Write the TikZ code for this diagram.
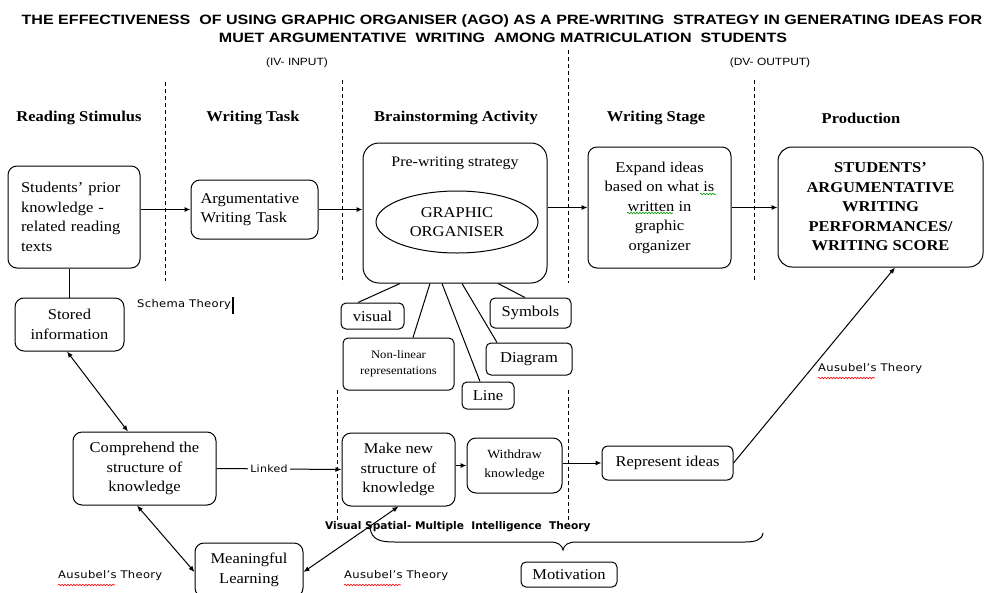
\documentclass[tikz,border=0pt]{standalone}
\usepackage{fontspec}
\setmainfont{Liberation Serif}[FakeStretch=1.1]
\newfontfamily\arialf{Liberation Sans}[FakeStretch=1.14]
\newfontfamily\arialt{Liberation Sans}[FakeStretch=1.19]
\newfontfamily\dvs{DejaVu Sans}[FakeStretch=1.1, LetterSpace=3]
\newfontfamily\dvsplain{DejaVu Sans}
\usetikzlibrary{arrows.meta,shapes.geometric,decorations.pathmorphing,calc}
\begin{document}
\begin{tikzpicture}[x=1pt,y=-1pt,
  bx/.style={draw, rounded corners=9pt, line width=1pt, inner sep=0pt, align=center, font=\fontsize{15}{19.5}\selectfont},
  sbx/.style={draw, rounded corners=5pt, line width=1pt, inner sep=0pt, align=center, font=\fontsize{15}{19}\selectfont},
  hdr/.style={font=\bfseries\fontsize{15}{17}\selectfont, inner sep=0pt},
  th/.style={font=\dvs\fontsize{10.5}{12}\selectfont, inner sep=0pt, anchor=west},
  dsh/.style={dash pattern=on 4pt off 3pt, line width=0.8pt},
  arr/.style={-{Latex[length=6pt,width=5pt]}, line width=1pt},
  darr/.style={{Latex[length=6pt,width=5pt]}-{Latex[length=6pt,width=5pt]}, line width=1pt},
  ln/.style={line width=1pt},
  sq/.style={decorate, decoration={snake, segment length=3pt, amplitude=0.8pt}, line width=0.6pt},
]
\useasboundingbox (0,0) rectangle (985,592);
% title
\node[font=\arialt\bfseries\fontsize{13.5}{15}\selectfont, inner sep=0pt] (t1) at (502,21) {THE EFFECTIVENESS\ \ OF USING GRAPHIC ORGANISER (AGO) AS A PRE-WRITING\ \ STRATEGY IN GENERATING IDEAS FOR};
\node[font=\arialt\bfseries\fontsize{13.5}{15}\selectfont, inner sep=0pt] (t2) at (503,38) {MUET ARGUMENTATIVE\ \ WRITING\ \ AMONG MATRICULATION\ \ STUDENTS};
\node[font=\arialf\fontsize{10.5}{12}\selectfont, inner sep=0pt] (iv) at (297,63) {(IV- INPUT)};
\node[font=\arialf\fontsize{10.5}{12}\selectfont, inner sep=0pt] (dv) at (770,63) {(DV- OUTPUT)};
% dashed separators
\draw[dsh] (165,82) -- (165,281);
\draw[dsh] (342,80) -- (342,283);
\draw[dsh] (568,50) -- (568,283);
\draw[dsh] (754,80) -- (754,283);
\draw[dsh] (337,390) -- (337,522);
\draw[dsh] (568,390) -- (568,525);
% headers
\node[hdr] (h1) at (79,118) {Reading Stimulus};
\node[hdr] (h2) at (253,118) {Writing Task};
\node[hdr] (h3) at (456,118) {Brainstorming Activity};
\node[hdr] (h4) at (656,118) {Writing Stage};
\node[hdr] (h5) at (861,118) {Production};
% top row
\node[bx, minimum width=132pt, minimum height=102pt, text width=106pt, align=left] (prior) at (74,217) {Students’ prior\\ knowledge -\\ related reading\\ texts};
\node[bx, minimum width=127pt, minimum height=59pt, text width=108pt, align=left] (task) at (254.5,209.5) {Argumentative\\ Writing Task};
\node[draw, rounded corners=16pt, line width=1pt, minimum width=184pt, minimum height=140pt, inner sep=0pt] (big) at (455,213) {};
\node[font=\fontsize{14.5}{16}\selectfont, inner sep=0pt] (pws) at (455,163) {Pre-writing strategy};
\node[ellipse, draw, line width=1pt, minimum width=162pt, minimum height=62pt, inner sep=0pt, align=center, font=\fontsize{15}{19.5}\selectfont] (go) at (457,222) {GRAPHIC\\ORGANISER};
\node[bx, minimum width=143pt, minimum height=121pt] (exp) at (659.5,207.5) {Expand ideas\\ based on what is\\ written in\\ graphic\\ organizer};
\node[bx, rounded corners=14pt, minimum width=205pt, minimum height=120pt, font=\bfseries\fontsize{15}{19.5}\selectfont] (prod) at (880.5,207) {STUDENTS’\\ ARGUMENTATIVE\\ WRITING\\ PERFORMANCES/\\ WRITING SCORE};
% small boxes
\node[sbx, minimum width=63pt, minimum height=26pt] (visual) at (372.5,316) {visual};
\node[sbx, minimum width=111pt, minimum height=52pt, font=\fontsize{11.5}{16}\selectfont] (nonlin) at (398.5,364) {Non-linear\\ representations};
\node[sbx, minimum width=52pt, minimum height=27pt] (line) at (488,395.5) {Line};
\node[sbx, minimum width=86pt, minimum height=32pt] (diag) at (529,359) {Diagram};
\node[sbx, minimum width=81pt, minimum height=30pt] (sym) at (530.5,313) {Symbols};
% lower part
\node[bx, minimum width=109pt, minimum height=53pt] (stored) at (69.5,324.5) {Stored\\ information};
\node[bx, minimum width=143pt, minimum height=73pt] (comp) at (144.5,468.5) {Comprehend the\\ structure of\\ knowledge};
\node[bx, minimum width=113pt, minimum height=73pt] (make) at (398.5,469.5) {Make new\\ structure of\\ knowledge};
\node[bx, minimum width=95pt, minimum height=55pt, font=\fontsize{12.5}{19}\selectfont] (wd) at (514.5,465.5) {Withdraw\\ knowledge};
\node[bx, minimum width=131pt, minimum height=34pt, rounded corners=6pt] (rep) at (667.5,463) {Represent ideas};
\node[bx, minimum width=108pt, minimum height=54pt] (mean) at (249,570) {Meaningful\\ Learning};
\node[sbx, minimum width=96pt, minimum height=25pt] (mot) at (569,574.5) {Motivation};
% theory labels
\node[th] (schema) at (137,305) {Schema Theory};
\draw[line width=1.8pt] (233,297) -- (233,314);
\node[th] (aus1) at (818,369) {Ausubel’s Theory};
\node[th] (aus2) at (58,576) {Ausubel’s Theory};
\node[th] (aus3) at (344,576) {Ausubel’s Theory};
\node[font=\dvsplain\bfseries\fontsize{10.6}{12}\selectfont, inner sep=0pt, anchor=west] (vs) at (325,527) {Visual Spatial- Multiple\ \ Intelligence\ \ Theory};
% squiggles
\draw[sq, red] (818,378) -- (875,378);
\draw[sq, red] (58,585) -- (115,585);
\draw[sq, red] (344,585) -- (401,585);
\draw[sq, green!60!black] (700,194) -- (716,194);
\draw[sq, green!60!black] (627,213) -- (673,213);
% brace
\draw[ln] (370,528) .. controls (372,540) and (380,542) .. (395,542) -- (550,542) .. controls (558,542) and (562,545) .. (563,550) .. controls (564,545) and (568,542) .. (576,542) -- (745,542) .. controls (755,542) and (762,540) .. (763,533);
% connectors
\draw[arr] (task.west -| prior.east) -- (task.west);
\draw[arr] (task.east) -- (task.east -| big.west);
\draw[arr] (big.east |- exp.west) -- (exp.west);
\draw[arr] (exp.east) -- (exp.east -| prod.west);
\draw[ln] (stored.north |- prior.south) -- (stored.north);
\draw[ln] ([xshift=-55pt]big.south) -- ([xshift=-14.5pt]visual.north);
\draw[ln] ([xshift=-25pt]big.south) -- ([xshift=14.5pt]nonlin.north);
\draw[ln] ([xshift=-13pt]big.south) -- ([xshift=-8pt]line.north);
\draw[ln] ([xshift=7pt]big.south) -- ([xshift=-32pt]diag.north);
\draw[ln] ([xshift=43pt]big.south) -- ([xshift=-5.5pt]sym.north);
\draw[darr] ([xshift=-2.5pt]stored.south) -- ([xshift=-16.5pt]comp.north);
\draw[darr] ([xshift=-7.5pt]comp.south) -- ([yshift=-2pt]mean.west);
\draw[darr] (make.south) -- ([yshift=-2pt]mean.east);
\draw[arr] (comp.east) -- node[pos=0.42, fill=white, inner sep=2pt, font=\dvs\fontsize{10}{12}\selectfont] (lk) {Linked} (make.west);
\draw[arr] (wd.west -| make.east) -- (wd.west);
\draw[arr] (rep.west -| wd.east) -- (rep.west);
\draw[arr] (rep.east) -- ([xshift=14.5pt]prod.south);
\end{tikzpicture}
\end{document}
